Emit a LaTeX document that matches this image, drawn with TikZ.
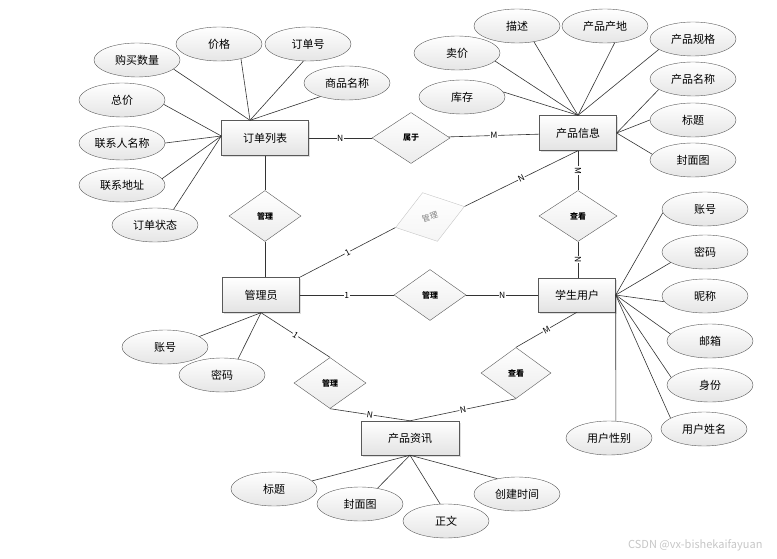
\documentclass[tikz,border=0pt]{standalone}
\usepackage{fontspec}
\setmainfont{Noto Sans CJK SC}
\usetikzlibrary{shapes.geometric,shadows}

\begin{document}
\begin{tikzpicture}[x=1pt, y=-1pt,
  entity/.style={draw=gray!70!black, top color=white, bottom color=gray!22, drop shadow={opacity=0.25, shadow xshift=1.5pt, shadow yshift=-1.5pt}, minimum width=77pt, minimum height=35pt, inner sep=0pt, font=\fontsize{11}{13}\selectfont},
  attr/.style={ellipse, draw=gray!70!black, top color=white, bottom color=gray!20, minimum width=86pt, minimum height=34pt, inner sep=0pt, font=\fontsize{11}{13}\selectfont},
  rel/.style={diamond, draw=gray!70!black, top color=white, bottom color=gray!15, minimum width=72pt, minimum height=51pt, inner sep=0pt, font=\fontsize{8}{9}\selectfont\bfseries},
  link/.style={draw=gray!40!black, line width=0.6pt},
  card/.style={fill=white, inner sep=0.6pt, font=\fontsize{8.5}{9}\selectfont, sloped}]

  \useasboundingbox (0,0) rectangle (777,559);

  % Entities
  \node[entity, minimum width=87pt] (dd) at (265,138) {订单列表};
  \node[entity] (cpxx) at (578,133) {产品信息};
  \node[entity] (gly) at (261,295) {管理员};
  \node[entity, minimum height=34pt] (xsyh) at (577,295) {学生用户};
  \node[entity, minimum width=98pt, minimum height=34pt] (cpzx) at (410,438) {产品资讯};

  % Relations
  \node[rel, minimum width=78pt] (sy) at (411,138) {属于};
  \node[rel] (gl1) at (265,216) {管理};
  \node[rel, draw=gray!45, text=gray, bottom color=gray!8, font=\fontsize{8}{9}\selectfont, rotate=17] (gl2) at (430,217) {管理};
  \node[rel] (gl3) at (430,295) {管理};
  \node[rel] (gl4) at (330,383) {管理};
  \node[rel, minimum width=78pt] (ck1) at (578,216) {查看};
  \node[rel, minimum width=70pt] (ck2) at (516,373) {查看};

  % Relation links
  \draw[link] (dd) -- node[card] {N} (sy);
  \draw[link] (sy) -- node[card] {M} (cpxx);
  \draw[link] (dd) -- (gl1);
  \draw[link] (gl1.south) -- (gl1.south |- gly.north);
  \draw[link] (gly.north east) -- node[card] {1} (gl2.west);
  \draw[link] (gl2.east) -- node[card] {N} (cpxx.south);
  \draw[link] (gly) -- node[card] {1} (gl3);
  \draw[link] (gl3) -- node[card] {N} (xsyh);
  \draw[link] (cpxx) -- node[card] {M} (ck1);
  \draw[link] (ck1) -- node[card] {N} (xsyh.north -| ck1);
  \draw[link] (gly.south) -- node[card] {1} (gl4.north);
  \draw[link] (gl4.south) -- node[card] {N} (cpzx.north);
  \draw[link] (xsyh.south) -- node[card] {M} (ck2.north);
  \draw[link] (ck2.south) -- node[card] {N} (cpzx.north);

  % Order attributes
  \node[attr] (dd1) at (137,60) {购买数量};
  \node[attr] (dd2) at (219,44) {价格};
  \node[attr] (dd3) at (308,44) {订单号};
  \node[attr] (dd4) at (347,83) {商品名称};
  \node[attr] (dd5) at (122,100) {总价};
  \node[attr] (dd6) at (122,143) {联系人名称};
  \node[attr] (dd7) at (122,185) {联系地址};
  \node[attr] (dd8) at (155,225) {订单状态};
  \coordinate (ddtop) at ([xshift=-15pt]dd.north);
  \coordinate (ddleft) at ([yshift=2pt]dd.west);
  \draw[link] (dd1.-14) -- (ddtop);
  \draw[link] (dd2.-34) -- (ddtop);
  \draw[link] (dd3.-105) -- (ddtop);
  \draw[link] (dd4.-153) -- (ddtop);
  \draw[link] (dd5.-6) -- (ddleft);
  \draw[link] (dd6.east) -- (ddleft);
  \draw[link] (dd7.9) -- (ddleft);
  \draw[link] (dd8.40) -- (ddleft);

  % Product attributes
  \node[attr] (cp1) at (462,97) {库存};
  \node[attr] (cp2) at (457,53) {卖价};
  \node[attr] (cp3) at (517,26) {描述};
  \node[attr] (cp4) at (605,26) {产品产地};
  \node[attr] (cp5) at (693,39) {产品规格};
  \node[attr] (cp6) at (693,79) {产品名称};
  \node[attr] (cp7) at (693,120) {标题};
  \node[attr] (cp8) at (693,160) {封面图};
  \draw[link] (cp1.7) -- (cpxx.north);
  \draw[link] (cp2.-12) -- (cpxx.north);
  \draw[link] (cp3.-43) -- (cpxx.north);
  \draw[link] (cp4.-60) -- (cpxx.north);
  \draw[link] (cp5.-163) -- (cpxx.north);
  \draw[link] (cp6.-163) -- (cpxx.east);
  \draw[link] (cp7.west) -- (cpxx.east);
  \draw[link] (cp8.172) -- (cpxx.east);

  % Student attributes
  \node[attr] (xs1) at (705,209) {账号};
  \node[attr] (xs2) at (705,252) {密码};
  \node[attr] (xs3) at (705,296) {昵称};
  \node[attr] (xs4) at (710,341) {邮箱};
  \node[attr] (xs5) at (710,385) {身份};
  \node[attr] (xs6) at (704,429) {用户姓名};
  \node[attr] (xs7) at (609,438) {用户性别};
  \draw[link] (xs1.-175) -- (xsyh.east);
  \draw[link] (xs2.-163) -- (xsyh.east);
  \draw[link] (xs3.-172) -- (xsyh.east);
  \draw[link] (xs4.170) -- (xsyh.east);
  \draw[link] (xs5.169) -- (xsyh.east);
  \draw[link] (xs6.162) -- (xsyh.east);
  \draw[link] (xs7.68) -- (xsyh.east);

  % Admin attributes
  \node[attr] (gy1) at (165,347) {账号};
  \node[attr] (gy2) at (222,375) {密码};
  \draw[link] (gy1.17) -- (gly.south);
  \draw[link] (gy2.45) -- (gly.south);

  % News attributes
  \node[attr] (zx1) at (274,489) {标题};
  \node[attr] (zx2) at (360,504) {封面图};
  \node[attr] (zx3) at (446,521) {正文};
  \node[attr] (zx4) at (517,494) {创建时间};
  \draw[link] (zx1.12) -- (cpzx.south);
  \draw[link] (zx2.42) -- (cpzx.south);
  \draw[link] (zx3.109) -- (cpzx.south);
  \draw[link] (zx4.142) -- (cpzx.south);

  % watermark
  \node[text=gray!45, font=\fontsize{11}{13}\selectfont, anchor=east] (wm) at (766,545) {CSDN @vx-bishekaifayuan};

\end{tikzpicture}
\end{document}
